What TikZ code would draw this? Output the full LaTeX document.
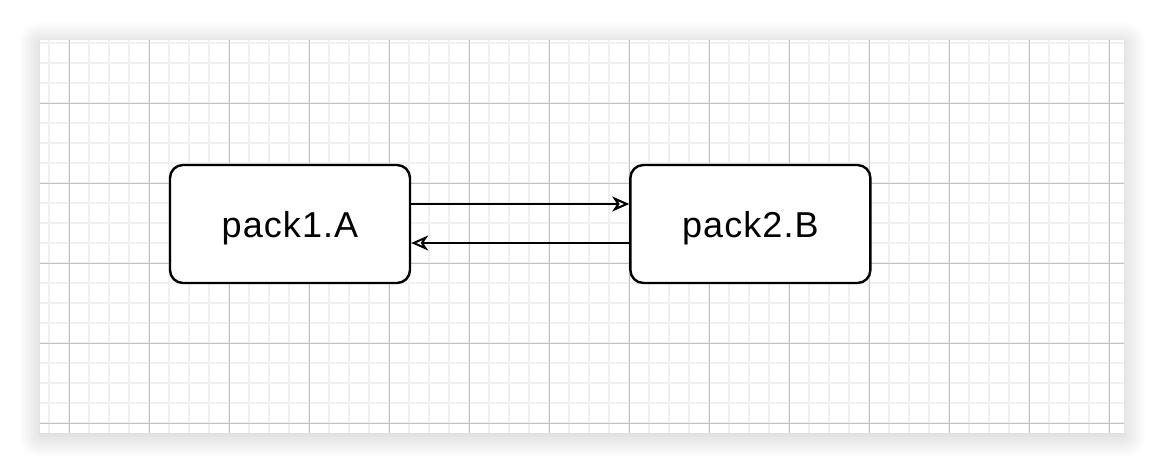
\documentclass[tikz,border=0pt]{standalone}
\usepackage{fontspec}
\setmainfont{Liberation Sans}
\usetikzlibrary{arrows.meta,positioning,shadows.blur}

\begin{document}
\begin{tikzpicture}[x=1pt,y=-1pt,>=Latex,node distance=218pt,
minor/.style={draw=black!6,line width=1.6pt},
major/.style={draw=black!24,line width=0.9pt},
block/.style={draw=black,line width=2.4pt,rounded corners=13pt,fill=white,minimum width=240pt,minimum height=118pt,inner sep=0pt,text depth=0pt,font=\fontsize{36}{40}\selectfont\addfontfeature{LetterSpace=3}},
flow/.style={-{Stealth[open,length=17pt,width=15pt,inset=5pt]},line width=2pt}]
\useasboundingbox (0,0) rectangle (1164,474);
\fill[white,blur shadow={shadow xshift=0pt,shadow yshift=-3pt,shadow blur radius=22pt,shadow blur steps=14,shadow opacity=22}] (40,40) rectangle (1124,433);
\foreach \x in {49,69,...,1109} \draw[minor] (\x,40)--(\x,433);
\foreach \y in {43,63,...,423} \draw[minor] (40,\y)--(1124,\y);
\foreach \x in {69,149,...,1109} \draw[major] (\x,40)--(\x,433);
\foreach \y in {103,183,...,423} \draw[major] (40,\y)--(1124,\y);
\node[block] (pack1) at (290,224) {pack1.A};
\node[block,right=of pack1] (pack2) {pack2.B};
\draw[flow] ([yshift=20pt]pack1.east)--([yshift=20pt]pack2.west);
\draw[flow] ([yshift=-19pt]pack2.west)--([yshift=-19pt]pack1.east);
\end{tikzpicture}
\end{document}
